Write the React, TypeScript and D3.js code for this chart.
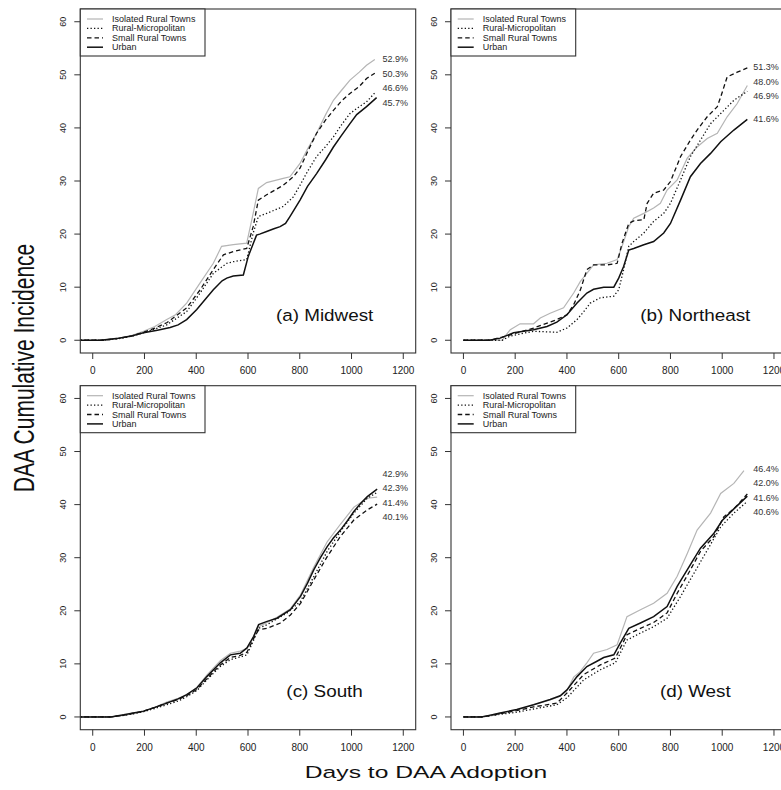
import React from 'react';
import * as d3 from 'd3';

type Pt = [number, number];

// ---------- data ----------
const categories = ['Isolated Rural Towns', 'Rural-Micropolitan', 'Small Rural Towns', 'Urban'];
const xTicks = [0, 200, 400, 600, 800, 1000, 1200];
const yTicks = [0, 10, 20, 30, 40, 50, 60];
const panelTitles = ['(a) Midwest', '(b) Northeast', '(c) South', '(d) West'];

// (a) Midwest
const midwestIsolated: Pt[] = [[-60,0],[40,0],[100,0.4],[150,0.9],[196,1.7],[240,2.6],[286,3.9],[320,4.8],[363,7],[415,10.8],[466,14.5],[498,17.7],[543,18],[595,18.3],[620,23.9],[640,28.6],[672,29.7],[736,30.5],[762,30.8],[801,33.3],[830,36],[865,39],[900,42.5],[930,45.2],[960,47],[994,49],[1030,50.5],[1058,51.8],[1090,52.9]];
const midwestMicro: Pt[] = [[-60,0],[40,0],[100,0.3],[150,0.75],[196,1.4],[240,2.1],[286,2.9],[363,5.4],[415,8.9],[466,12.6],[518,14.5],[543,14.8],[595,15.2],[620,20.2],[640,23.3],[672,23.9],[736,25.2],[775,27],[801,29.2],[830,31.8],[865,34.6],[900,36.5],[930,38.3],[960,40.5],[994,42.7],[1030,44],[1058,44.9],[1090,46.6]];
const midwestSmall: Pt[] = [[-60,0],[40,0],[100,0.35],[150,0.8],[196,1.5],[240,2.3],[286,3.3],[363,6.1],[415,9.5],[466,13.3],[505,16.1],[543,16.7],[595,17.3],[620,21.4],[640,26.4],[672,27.4],[736,29.2],[775,30.8],[801,32.4],[830,35.5],[865,39],[900,41.5],[930,43.3],[960,45],[994,46.5],[1030,47.8],[1058,49.3],[1090,50.3]];
const midwestUrban: Pt[] = [[-60,0],[30,0],[100,0.4],[150,0.8],[196,1.4],[250,1.9],[299,2.4],[330,2.9],[363,3.9],[402,5.8],[440,8],[466,9.5],[500,11.2],[518,11.7],[543,12.1],[582,12.3],[601,15.8],[633,19.8],[645,20],[672,20.5],[700,21],[724,21.4],[745,22],[762,23.3],[801,26.4],[830,29],[865,31.4],[900,34],[930,36.4],[960,38.5],[994,40.8],[1020,42.5],[1058,44],[1097,45.7]];
const midwestEnd = [52.9, 46.6, 50.3, 45.7];

// (b) Northeast
const northeastIsolated: Pt[] = [[0,0],[150,0],[165,1],[181,2],[219,3.1],[271,3.1],[297,4.2],[335,5.1],[387,6.1],[426,8.9],[452,11.1],[477,12.6],[503,14.2],[555,14.5],[594,15.2],[613,17.7],[639,21.4],[658,23],[697,23.9],[735,24.9],[761,25.8],[787,28.3],[826,30.2],[865,34.3],[903,36.4],[942,38],[981,39],[1019,42.1],[1058,44.6],[1097,48.0]];
const northeastMicro: Pt[] = [[0,0],[150,0],[181,0.8],[271,1.7],[361,1.5],[400,2.3],[439,3.9],[465,5.4],[490,7],[529,8],[581,8.3],[600,9.5],[619,13.3],[639,17.7],[658,18.6],[697,20.2],[735,22.4],[774,23.9],[800,25.8],[839,30.2],[877,34.6],[916,37.7],[955,40.8],[994,42.7],[1045,45.2],[1097,46.9]];
const northeastSmall: Pt[] = [[0,0],[100,0],[150,0.6],[194,1.2],[271,2.3],[361,3.9],[400,4.8],[426,6.7],[452,9.5],[477,13.3],[503,14.2],[555,14.2],[594,14.5],[613,18.3],[639,22],[658,22.5],[697,22.7],[710,25.8],[735,27.7],[774,28.3],[800,29.9],[839,34.6],[877,37.7],[903,39.6],[942,42.1],[981,44],[994,45.8],[1019,49.6],[1058,50.5],[1097,51.3]];
const northeastUrban: Pt[] = [[0,0],[100,0],[142,0.4],[194,1.4],[271,2],[323,2.6],[361,3.4],[400,4.8],[439,7],[477,8.9],[503,9.6],[542,10],[581,10],[600,11.7],[619,13.9],[639,17],[658,17.3],[697,18],[735,18.6],[774,20.2],[800,22],[839,26.4],[877,30.8],[916,33.3],[955,35.2],[994,37.4],[1045,39.6],[1097,41.6]];
const northeastEnd = [48.0, 46.9, 51.3, 41.6];

// (c) South
const southIsolated: Pt[] = [[-60,0],[70,0],[120,0.3],[157,0.6],[196,1],[240,1.8],[286,2.8],[330,3.5],[363,4.1],[403,5.6],[441,7.9],[493,10.6],[532,12],[570,12.4],[596,12.9],[622,15],[641,17],[674,17.8],[712,18.8],[764,20.4],[803,23],[854,28.2],[906,33],[957,36.3],[1009,39.5],[1061,41.2],[1099,41.4]];
const southMicro: Pt[] = [[-60,0],[70,0],[120,0.3],[157,0.6],[196,1],[240,1.6],[286,2.3],[330,3],[363,3.8],[403,5],[441,7],[493,9.5],[532,10.8],[570,11.3],[596,11.7],[622,14.5],[641,16.7],[674,17.4],[751,19.6],[803,21.8],[854,26.4],[906,31.2],[957,34.9],[1009,38.4],[1061,41.2],[1099,42.3]];
const southSmall: Pt[] = [[-60,0],[70,0],[120,0.35],[157,0.7],[196,1.1],[240,1.8],[286,2.6],[330,3.3],[363,4],[403,5.2],[441,7.2],[493,9.8],[532,11.2],[570,11.6],[596,12.2],[622,14.8],[641,16.4],[674,16.7],[725,17.7],[764,19.2],[803,21.4],[854,25.8],[906,30.2],[957,34],[1009,37.1],[1061,39],[1099,40.1]];
const southUrban: Pt[] = [[-60,0],[70,0],[120,0.4],[157,0.75],[196,1.1],[240,1.8],[286,2.6],[330,3.4],[363,4.2],[403,5.5],[441,7.6],[493,10.2],[532,11.7],[570,12],[596,13],[622,15.2],[641,17.4],[674,18],[712,18.6],[764,20.2],[803,22.7],[830,25.2],[854,27.7],[880,30],[906,32.1],[930,33.7],[957,35.2],[985,37],[1009,38.7],[1035,40.2],[1061,41.5],[1099,42.9]];
const southEnd = [41.4, 42.3, 40.1, 42.9];

// (d) West
const westIsolated: Pt[] = [[0,0],[70,0],[100,0.3],[142,0.75],[206,1.3],[271,2.3],[335,3.2],[374,3.9],[400,5],[426,7.5],[450,8.5],[477,10.2],[503,12],[555,12.7],[594,13.6],[632,18.9],[684,20.2],[735,21.4],[787,23.3],[826,26.5],[865,30.8],[903,35.2],[955,38.4],[994,42.1],[1045,44],[1084,46.4]];
const westMicro: Pt[] = [[0,0],[70,0],[100,0.2],[142,0.5],[206,0.9],[271,1.5],[361,2.3],[400,3.6],[465,7],[529,8.9],[587,10.2],[632,14.5],[684,15.8],[735,17],[787,18.6],[839,22.7],[890,27],[942,31.4],[994,35.8],[1045,38.4],[1097,40.6]];
const westSmall: Pt[] = [[0,0],[70,0],[100,0.2],[142,0.6],[206,1.2],[271,1.9],[361,2.6],[400,4.5],[465,8],[529,9.8],[587,11.1],[632,15.5],[684,16.7],[735,17.8],[787,19.6],[826,23.3],[877,27.7],[916,31.2],[968,34],[1006,37.7],[1045,39.2],[1097,42.0]];
const westUrban: Pt[] = [[0,0],[70,0],[100,0.3],[142,0.75],[206,1.4],[271,2.3],[335,3.3],[374,4],[400,5.1],[439,7.6],[477,9.5],[516,10.5],[542,11.2],[581,11.7],[606,13.9],[639,16.7],[684,17.7],[735,18.9],[787,20.8],[826,24.6],[877,28.7],[916,31.8],[968,34.6],[1000,37],[1045,39.2],[1097,41.6]];
const westEnd = [46.4, 40.6, 42.0, 41.6];

// ---------- styling ----------
const FONT = "'Liberation Sans', Arial, Helvetica, sans-serif";
const seriesStyle = [
  { stroke: '#b5b5b5', width: 1.2, dash: '' },
  { stroke: '#111', width: 1.3, dash: '1.3 2.2' },
  { stroke: '#111', width: 1.3, dash: '4.5 3' },
  { stroke: '#111', width: 1.5, dash: '' },
];
const colLeft = [80.3, 451];
const rowTop = [9, 385.7];
const PW = 335.4;
const PH = 344;

function spreadLabels(ys: number[], minGap: number): number[] {
  const idx = ys.map((v, i) => i).sort((a, b) => ys[a] - ys[b]);
  const pos = idx.map(i => ys[i]);
  for (let it = 0; it < 200; it++) {
    let moved = false;
    for (let k = 0; k < pos.length - 1; k++) {
      const gap = pos[k + 1] - pos[k];
      if (gap < minGap - 0.01) {
        const d = (minGap - gap) / 2;
        pos[k] -= d;
        pos[k + 1] += d;
        moved = true;
      }
    }
    if (!moved) break;
  }
  const out = new Array(ys.length);
  idx.forEach((i, k) => (out[i] = pos[k]));
  return out;
}

function Panel({ index, series, ends }: { index: number; series: Pt[][]; ends: number[] }) {
  const L = colLeft[index % 2];
  const T = rowTop[Math.floor(index / 2)];
  const x = d3.scaleLinear().domain([-48, 1248]).range([L, L + PW]);
  const y = d3.scaleLinear().domain([-2.4, 62.4]).range([T + PH, T]);
  const line = d3.line<Pt>().x(d => x(d[0])).y(d => y(d[1]));
  const clipId = `clip${index}`;
  const labelY = spreadLabels(ends.map(v => y(v)), 14.5);
  const legTop = T;
  return (
    <g>
      <defs>
        <clipPath id={clipId}>
          <rect x={L} y={T} width={PW} height={PH} />
        </clipPath>
      </defs>
      <g clipPath={`url(#${clipId})`}>
        {series.map((s, i) => (
          <path key={i} d={line(s) || ''} fill="none" stroke={seriesStyle[i].stroke}
            strokeWidth={seriesStyle[i].width} strokeDasharray={seriesStyle[i].dash || undefined} />
        ))}
      </g>
      <rect x={L} y={T} width={PW} height={PH} fill="none" stroke="#333" strokeWidth={1.1} />
      {/* x axis */}
      {xTicks.map(t => (
        <g key={t}>
          <line x1={x(t)} x2={x(t)} y1={T + PH} y2={T + PH + 6} stroke="#333" />
          <text x={x(t)} y={T + PH + 21} textAnchor="middle" fontSize={10} fill="#222">{t}</text>
        </g>
      ))}
      {/* y axis */}
      {yTicks.map(t => (
        <g key={t}>
          <line x1={L - 6} x2={L} y1={y(t)} y2={y(t)} stroke="#333" />
          <text transform={`translate(${L - 14.5},${y(t)}) rotate(-90)`} textAnchor="middle" fontSize={9} fill="#222">{t}</text>
        </g>
      ))}
      {/* legend */}
      <rect x={L} y={legTop} width={124.7} height={47} fill="#fff" stroke="#333" strokeWidth={1.1} />
      {categories.map((c, i) => {
        const ly = legTop + 10 + i * 9.4;
        return (
          <g key={c}>
            <line x1={L + 6.7} x2={L + 22.7} y1={ly} y2={ly} stroke={seriesStyle[i].stroke}
              strokeWidth={seriesStyle[i].width} strokeDasharray={seriesStyle[i].dash || undefined} />
            <text x={L + 31.7} y={ly} dominantBaseline="central" fontSize={9} fill="#222">{c}</text>
          </g>
        );
      })}
      {/* end labels */}
      {ends.map((v, i) => (
        <text key={i} x={x(1120)} y={labelY[i]} dominantBaseline="central" fontSize={9} fill="#333">
          {v.toFixed(1) + '%'}
        </text>
      ))}
      {/* panel title */}
      <text transform={`translate(${x(896)},${T + PH - 32.3}) scale(1.11,1)`} textAnchor="middle" fontSize={17} fill="#111">
        {panelTitles[index]}
      </text>
    </g>
  );
}

export default function App() {
  const panels = [
    { series: [midwestIsolated, midwestMicro, midwestSmall, midwestUrban], ends: midwestEnd },
    { series: [northeastIsolated, northeastMicro, northeastSmall, northeastUrban], ends: northeastEnd },
    { series: [southIsolated, southMicro, southSmall, southUrban], ends: southEnd },
    { series: [westIsolated, westMicro, westSmall, westUrban], ends: westEnd },
  ];
  return (
    <svg width={781} height={790} style={{ position: 'absolute', left: 0, top: 0, background: '#fff' }} fontFamily={FONT}>
      <rect x={0} y={0} width={781} height={790} fill="#fff" />
      {panels.map((p, i) => (
        <Panel key={i} index={i} series={p.series} ends={p.ends} />
      ))}
      <text transform="translate(426,777.5) scale(1.45,1)" textAnchor="middle" fontSize={17} fill="#111">
        Days to DAA Adoption
      </text>
      <text transform="translate(34,368) rotate(-90) scale(0.7,1)" textAnchor="middle" fontSize={30} fill="#111">
        DAA Cumulative Incidence
      </text>
    </svg>
  );
}
